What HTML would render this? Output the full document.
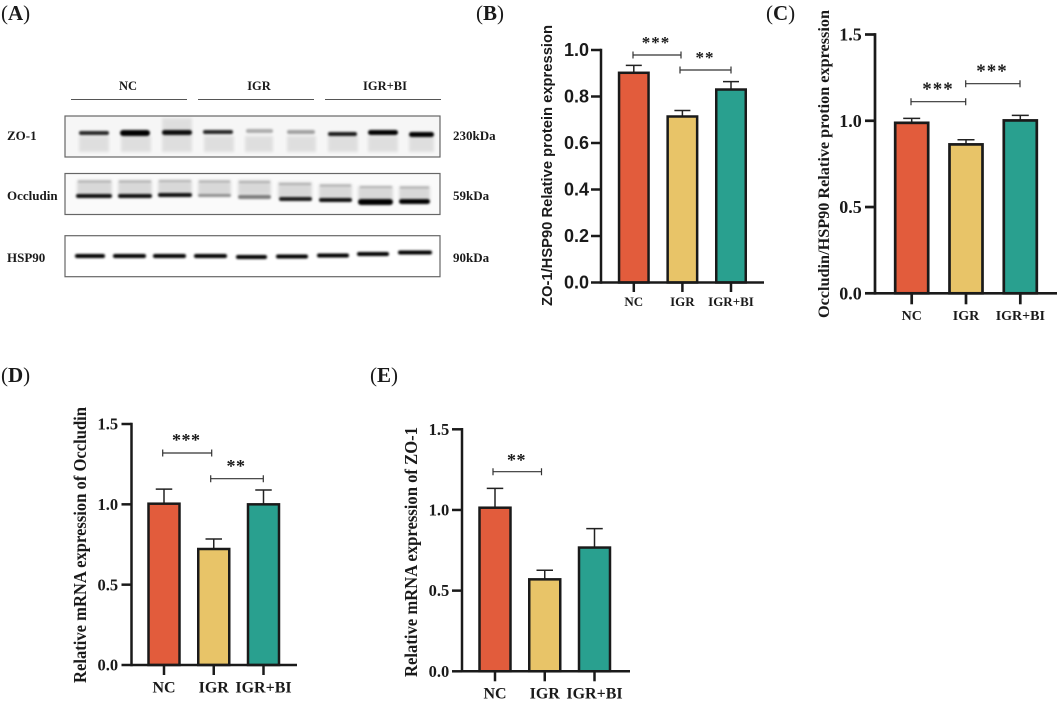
<!DOCTYPE html>
<html>
<head>
<meta charset="utf-8">
<style>
html,body{margin:0;padding:0;background:#fff;}
svg{display:block;}
text{font-family:"Liberation Serif","Noto Serif CJK SC",serif;font-weight:bold;fill:#1a1a1a;}
.sans{font-family:"Liberation Sans",sans-serif;}
.par{font-weight:normal;}
</style>
</head>
<body>
<svg id="figure" width="1059" height="701" viewBox="0 0 1059 701" xmlns="http://www.w3.org/2000/svg">
<defs>
<filter id="b1" x="-20%" y="-150%" width="140%" height="400%"><feGaussianBlur stdDeviation="1"/></filter>
<filter id="b2" x="-20%" y="-50%" width="140%" height="200%"><feGaussianBlur stdDeviation="1.6"/></filter>
</defs>

<g font-size="21">
<text x="1" y="20"><tspan class="par">(</tspan>A<tspan class="par">)</tspan></text>
<text x="476" y="20"><tspan class="par">(</tspan>B<tspan class="par">)</tspan></text>
<text x="766" y="20"><tspan class="par">(</tspan>C<tspan class="par">)</tspan></text>
<text x="1" y="382"><tspan class="par">(</tspan>D<tspan class="par">)</tspan></text>
<text x="370" y="382"><tspan class="par">(</tspan>E<tspan class="par">)</tspan></text>
</g>

<g>
<g font-size="12.5" text-anchor="middle">
<text x="128" y="90">NC</text>
<text x="259" y="90">IGR</text>
<text x="385" y="90">IGR+BI</text>
</g>
<g stroke="#555" stroke-width="1.1">
<line x1="71" x2="187" y1="99.5" y2="99.5"/>
<line x1="198" x2="314" y1="99.5" y2="99.5"/>
<line x1="325" x2="441" y1="99.5" y2="99.5"/>
</g>
<g font-size="13">
<text x="7" y="140">ZO-1</text>
<text x="7" y="200">Occludin</text>
<text x="7" y="262">HSP90</text>
<text x="453" y="140">230kDa</text>
<text x="453" y="200">59kDa</text>
<text x="453" y="262">90kDa</text>
</g>

<g>
<rect x="65" y="116" width="375" height="41" fill="#f6f6f6"/>
<g fill="#000" opacity="0.09" filter="url(#b2)">
<rect x="79" y="136" width="30" height="16"/>
<rect x="121" y="136" width="30" height="16"/>
<rect x="162" y="118" width="30" height="34"/>
<rect x="204" y="136" width="30" height="16"/>
<rect x="245" y="136" width="28" height="16"/>
<rect x="287" y="136" width="29" height="16"/>
<rect x="328" y="136" width="30" height="16"/>
<rect x="368" y="136" width="30" height="16"/>
<rect x="409" y="136" width="25" height="16"/>
</g>
<g fill="#000" filter="url(#b1)">
<rect x="79" y="131" width="30" height="4" rx="2" opacity=".85"/>
<rect x="120" y="130" width="30" height="6" rx="3" opacity="1"/>
<rect x="162" y="130" width="30" height="5" rx="2.5" opacity=".95"/>
<rect x="203" y="130" width="30" height="4" rx="2" opacity=".85"/>
<rect x="246" y="129" width="27" height="4" rx="2" opacity=".3"/>
<rect x="287" y="130" width="28" height="4" rx="2" opacity=".35"/>
<rect x="328" y="132" width="29" height="4" rx="2" opacity=".9"/>
<rect x="368" y="130" width="30" height="5" rx="2.5" opacity="1"/>
<rect x="409" y="132" width="25" height="5" rx="2.5" opacity="1"/>
</g>
<rect x="65" y="116" width="375" height="41" fill="none" stroke="#666" stroke-width="1.2"/>
</g>

<g>
<rect x="65" y="173.5" width="375" height="41" fill="#fafafa"/>
<g fill="#000" opacity="0.13" filter="url(#b2)">
<rect x="77" y="180" width="35" height="15"/>
<rect x="118" y="180" width="34" height="15"/>
<rect x="158" y="180" width="34" height="14"/>
<rect x="198" y="180" width="33" height="15"/>
<rect x="238" y="180" width="33" height="15"/>
<rect x="278" y="182" width="34" height="16"/>
<rect x="319" y="184" width="33" height="15"/>
<rect x="358" y="186" width="35" height="15"/>
<rect x="399" y="186" width="31" height="14"/>
</g>
<g fill="#000" opacity="0.2" filter="url(#b1)">
<rect x="78" y="180.500" width="33" height="2"/>
<rect x="119" y="180.500" width="32" height="2"/>
<rect x="159" y="180" width="32" height="2"/>
<rect x="199" y="180.500" width="31" height="2"/>
<rect x="239" y="181" width="31" height="2"/>
<rect x="279" y="183" width="32" height="2"/>
<rect x="320" y="184.500" width="31" height="2"/>
<rect x="360" y="186" width="32" height="2"/>
<rect x="400" y="186.500" width="29" height="2"/>
</g>
<g fill="#000" filter="url(#b1)">
<rect x="76" y="194" width="36" height="4" rx="2" opacity=".95"/>
<rect x="118" y="194" width="34" height="4" rx="2" opacity=".95"/>
<rect x="158" y="193" width="34" height="4" rx="2" opacity=".95"/>
<rect x="198" y="194" width="33" height="3" rx="1.5" opacity=".4"/>
<rect x="238" y="195" width="33" height="4" rx="2" opacity=".5"/>
<rect x="279" y="197" width="33" height="4" rx="2" opacity=".9"/>
<rect x="319" y="198" width="33" height="4" rx="2" opacity=".95"/>
<rect x="358" y="199" width="35" height="6" rx="3" opacity="1"/>
<rect x="399" y="199" width="31" height="5" rx="2.5" opacity="1"/>
</g>
<rect x="65" y="173.5" width="375" height="41" fill="none" stroke="#666" stroke-width="1.2"/>
</g>

<g>
<g fill="#000" filter="url(#b1)">
<rect x="75" y="254" width="30" height="4" rx="2"/>
<rect x="113" y="254" width="33" height="4" rx="2"/>
<rect x="153" y="254" width="33" height="4" rx="2"/>
<rect x="194" y="254" width="33" height="4" rx="2"/>
<rect x="236" y="255" width="31" height="4" rx="2"/>
<rect x="276" y="254.500" width="32" height="4" rx="2"/>
<rect x="317" y="253.500" width="32" height="4" rx="2"/>
<rect x="357" y="252" width="32" height="4" rx="2"/>
<rect x="398" y="250.500" width="34" height="4" rx="2"/>
</g>
<rect x="65" y="235.700" width="375" height="41" fill="none" stroke="#666" stroke-width="1.2"/>
</g>
</g>

<g id="charts"></g>
</svg>

<script>
// Shared categories and colours
var categories = ["NC", "IGR", "IGR+BI"];
var barColors = ["#E25C3C", "#E8C468", "#29A08F"];

// Panel B
var bValues = [0.902, 0.714, 0.830];
var bErrors = [0.032, 0.026, 0.034];
var bTicks = [0, 0.2, 0.4, 0.6, 0.8, 1.0];
var bTickLabels = ["0.0", "0.2", "0.4", "0.6", "0.8", "1.0"];

// Panel C
var cValues = [0.988, 0.863, 1.002];
var cErrors = [0.026, 0.027, 0.029];
var cTicks = [0, 0.5, 1.0, 1.5];
var cTickLabels = ["0.0", "0.5", "1.0", "1.5"];

// Panel D
var dValues = [1.004, 0.722, 1.000];
var dErrors = [0.091, 0.062, 0.089];
var dTicks = [0, 0.5, 1.0, 1.5];
var dTickLabels = ["0.0", "0.5", "1.0", "1.5"];

// Panel E
var eValues = [1.014, 0.570, 0.767];
var eErrors = [0.120, 0.056, 0.117];
var eTicks = [0, 0.5, 1.0, 1.5];
var eTickLabels = ["0.0", "0.5", "1.0", "1.5"];

var SVGNS = "http://www.w3.org/2000/svg";
var root = document.getElementById("charts");

function make(parent, tag, attrs, txt) {
  var el = document.createElementNS(SVGNS, tag);
  for (var k in attrs) el.setAttribute(k, attrs[k]);
  if (txt !== undefined) el.textContent = txt;
  parent.appendChild(el);
  return el;
}

function slug(s) {
  return s.toLowerCase().replace(/[^a-z0-9]+/g, "-");
}

function drawChart(c) {
  var g = make(root, "g", {});
  
  

  function y(v) { return c.y0 + (c.yTop - c.y0) * v / c.yMax; }
  function x(i) { return c.firstBar + i * c.barStep; }

  for (var i = 0; i < c.values.length; i++) {
    var top = y(c.values[i]);
    var errTop = y(c.values[i] + c.errors[i]);
    var stem = make(g, "line", {x1: x(i), x2: x(i), y1: top, y2: errTop, stroke: "#222", "stroke-width": c.errW});
    
    
    var cap = make(g, "line", {x1: x(i) - c.capW / 2, x2: x(i) + c.capW / 2, y1: errTop, y2: errTop, stroke: "#222", "stroke-width": c.errW});
    
    
    var bar = make(g, "rect", {x: x(i) - c.barW / 2, y: top, width: c.barW, height: c.y0 - top, fill: barColors[i], stroke: "#1a1a1a", "stroke-width": c.sw});
    
    
  }

  var yAxis = make(g, "line", {x1: c.axisX, x2: c.axisX, y1: c.yTop - c.sw / 2, y2: c.y0 + c.sw / 2, stroke: "#1a1a1a", "stroke-width": c.sw});
  
  
  var xAxis = make(g, "line", {x1: c.axisX, x2: c.axisEnd, y1: c.y0, y2: c.y0, stroke: "#1a1a1a", "stroke-width": c.sw});
  
  

  for (var t = 0; t < c.ticks.length; t++) {
    var ty = y(c.ticks[t]);
    var tick = make(g, "line", {x1: c.axisX - c.tickLen, x2: c.axisX, y1: ty, y2: ty, stroke: "#1a1a1a", "stroke-width": c.sw});
    
    
    var attrs = {x: c.axisX - c.tickLen - c.tickGap, y: ty + c.tickFont * 0.34, "text-anchor": "end", "font-size": c.tickFont};
    if (c.sansTicks) attrs["class"] = "sans";
    var lab = make(g, "text", attrs, c.tickLabels[t]);
    
    
  }

  for (var j = 0; j < categories.length; j++) {
    var xt = make(g, "line", {x1: x(j), x2: x(j), y1: c.y0, y2: c.y0 + c.xTick, stroke: "#1a1a1a", "stroke-width": c.sw});
    
    
    var cat = make(g, "text", {x: x(j), y: c.catY, "text-anchor": "middle", "font-size": c.catFont}, categories[j]);
    
    
  }

  var tAttrs = {transform: "translate(" + c.titleX + "," + ((c.titleFrom + c.titleTo) / 2) + ") rotate(-90)", "text-anchor": "middle", "font-size": c.titleFont, textLength: c.titleTo - c.titleFrom, lengthAdjust: "spacingAndGlyphs"};
  if (c.sansTitle) tAttrs["class"] = "sans";
  var title = make(g, "text", tAttrs, c.title);
  
  

  c.sig.forEach(function (s) {
    var br = make(g, "path", {d: "M" + s.a + " " + (s.y - 3.5) + "V" + (s.y + 3.5) + "M" + s.a + " " + s.y + "H" + s.b + "M" + s.b + " " + (s.y - 3.5) + "V" + (s.y + 3.5), fill: "none", stroke: "#333", "stroke-width": 1.2});
    
    
    var st = make(g, "text", {x: s.tx, y: s.ty, "text-anchor": "middle", "font-size": c.starFont, "letter-spacing": c.starSp}, s.t);
    
    
  });
}

drawChart({id: "b", values: bValues, errors: bErrors, ticks: bTicks, tickLabels: bTickLabels, yMax: 1.0,
  y0: 282.5, yTop: 50, axisX: 601, axisEnd: 764, firstBar: 633.8, barStep: 48.6, barW: 29.5, capW: 16, sw: 2.5, errW: 1.5, tickLen: 10, tickGap: 2, tickFont: 18, sansTicks: true, xTick: 9.5, catY: 306, catFont: 13,
  title: "ZO-1/HSP90 Relative protein expression", titleX: 552, titleFrom: 25, titleTo: 306, titleFont: 15, sansTitle: true, starFont: 17, starSp: 1,
  sig: [{a: 633, b: 681, y: 55, t: "***", tx: 656, ty: 48}, {a: 680, b: 731, y: 70, t: "**", tx: 705, ty: 63}]});
drawChart({id: "c", values: cValues, errors: cErrors, ticks: cTicks, tickLabels: cTickLabels, yMax: 1.5,
  y0: 293.3, yTop: 34.5, axisX: 875, axisEnd: 1057, firstBar: 911.7, barStep: 54.3, barW: 33, capW: 17, sw: 2.7, errW: 1.5, tickLen: 10, tickGap: 3.3, tickFont: 18, xTick: 11, catY: 320, catFont: 14,
  title: "Occludin/HSP90 Relative protion expression", titleX: 829, titleFrom: 10, titleTo: 318, titleFont: 16, starFont: 19, starSp: 1,
  sig: [{a: 911, b: 965.7, y: 101.7, t: "***", tx: 938, ty: 95}, {a: 965.7, b: 1020, y: 83.7, t: "***", tx: 992, ty: 77}]});
drawChart({id: "d", values: dValues, errors: dErrors, ticks: dTicks, tickLabels: dTickLabels, yMax: 1.5,
  y0: 665, yTop: 424, axisX: 131.500, axisEnd: 297, firstBar: 164, barStep: 49.75, barW: 31, capW: 16.5, sw: 2.5, errW: 1.5, tickLen: 10, tickGap: 3.4, tickFont: 16.5, xTick: 10, catY: 692.5, catFont: 16,
  title: "Relative mRNA expression of Occludin", titleX: 86, titleFrom: 407, titleTo: 683, titleFont: 18, starFont: 18, starSp: 0.5,
  sig: [{a: 162.7, b: 211.7, y: 453, t: "***", tx: 186.3, ty: 446}, {a: 210.7, b: 263.3, y: 478.7, t: "**", tx: 236, ty: 472}]});
drawChart({id: "e", values: eValues, errors: eErrors, ticks: eTicks, tickLabels: eTickLabels, yMax: 1.5,
  y0: 671.3, yTop: 429.3, axisX: 462, axisEnd: 630, firstBar: 495, barStep: 49.75, barW: 31, capW: 16.5, sw: 2.5, errW: 1.5, tickLen: 10, tickGap: 2.7, tickFont: 16.5, xTick: 10, catY: 698.5, catFont: 16,
  title: "Relative mRNA expression of ZO-1", titleX: 417, titleFrom: 427, titleTo: 677, titleFont: 18, starFont: 18, starSp: 0.5,
  sig: [{a: 493, b: 541.5, y: 471.7, t: "**", tx: 516.5, ty: 466}]});
</script>
</body>
</html>
